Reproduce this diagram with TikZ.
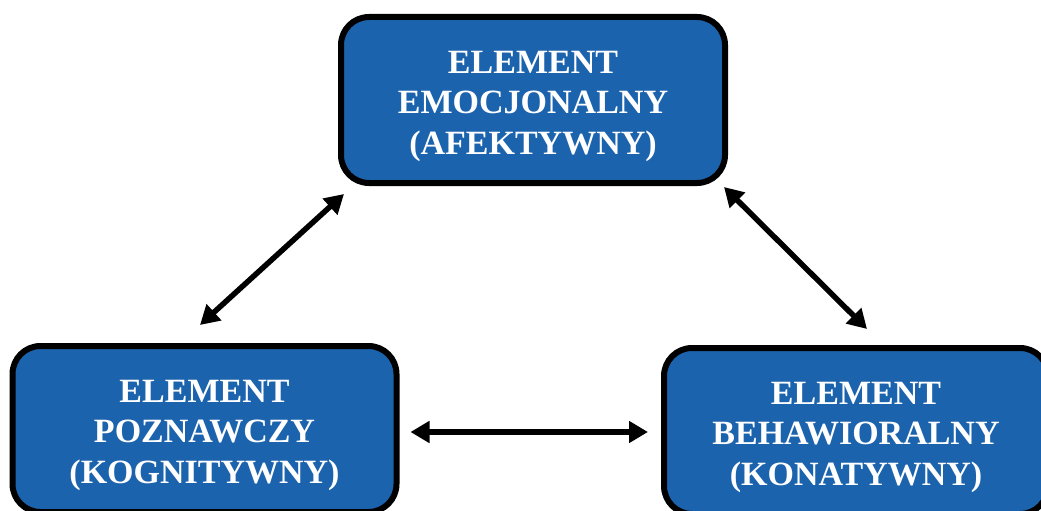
\documentclass[tikz,border=0pt]{standalone}
\usepackage{fontspec}
\setmainfont{Liberation Serif}
\usetikzlibrary{arrows.meta,calc}
\definecolor{boxblue}{RGB}{28,99,174}
% taller first line, so the text block sits a little lower in its box
\newcommand\firstlinepad{\rule{0pt}{35pt}}
\tikzset{
  element/.style={draw=black, line width=6pt, fill=boxblue, rounded corners=28pt,
    minimum width=384pt, minimum height=166pt, align=center, text=white,
    font=\fontsize{34pt}{40.5pt}\selectfont\bfseries, inner sep=0pt},
  link/.style={line width=5.5pt, {Triangle[length=19pt,width=21pt]}-{Triangle[length=19pt,width=21pt]}}
}
\begin{document}
\begin{tikzpicture}[x=1pt,y=-1pt]
  \useasboundingbox (0,0) rectangle (1041,511);
  \clip (0,0) rectangle (1041,511);
  \fill[white] (0,0) rectangle (1041,511);

  % the three components
  \node[element] (affect) at (533,100) {\firstlinepad ELEMENT\\EMOCJONALNY\\(AFEKTYWNY)};
  \node[element] (cognit) at (204.5,429) {\firstlinepad ELEMENT\\POZNAWCZY\\(KOGNITYWNY)};
  \node[element] (behav) at (856,431) {\firstlinepad ELEMENT\\BEHAWIORALNY\\(KONATYWNY)};

  % ends of the two-way links
  \coordinate (c1) at ($(cognit.north)+(-4.5,-18)$);
  \coordinate (a1) at ($(affect.south west)+(6,8)$);
  \coordinate (a2) at ($(affect.south east)+(-4,1)$);
  \coordinate (b2) at ($(behav.north)+(11,-16)$);
  \coordinate (c3) at ($(cognit.east)+(11,3)$);
  \coordinate (b3) at ($(behav.west)+(-13,1)$);

  \draw[link] (c1) -- (a1);
  \draw[link] (a2) -- (b2);
  \draw[link] (c3) -- (b3);
\end{tikzpicture}
\end{document}
